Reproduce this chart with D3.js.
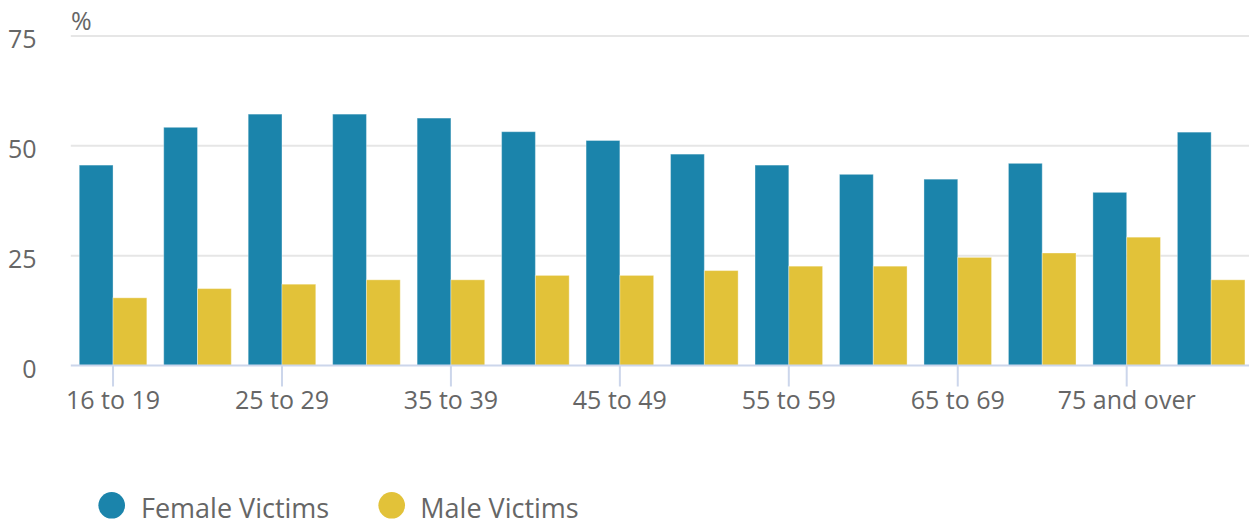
<!DOCTYPE html>
<html>
<head>
<meta charset="utf-8">
<script src="https://cdn.jsdelivr.net/npm/d3@7"></script>
<style>
  html, body { margin: 0; padding: 0; background: #ffffff; }
  svg { display: block; }
  text { font-family: "Open Sans", "DejaVu Sans", sans-serif; fill: #666666; }
</style>
</head>
<body>
<svg id="chart" width="1249" height="522"></svg>
<script>
// ---- data ----
const categories = ["16 to 19", "20 to 24", "25 to 29", "30 to 34", "35 to 39", "40 to 44",
  "45 to 49", "50 to 54", "55 to 59", "60 to 64", "65 to 69", "70 to 74", "75 and over", "All ages"];
const femaleVictims = [45.6, 54.2, 57.2, 57.2, 56.3, 53.2, 51.2, 48.1, 45.6, 43.5, 42.4, 46.0, 39.4, 53.1];
const maleVictims   = [15.4, 17.5, 18.5, 19.5, 19.5, 20.5, 20.5, 21.6, 22.6, 22.6, 24.6, 25.6, 29.2, 19.5];
const seriesNames = ["Female Victims", "Male Victims"];
const yTicks = [0, 25, 50, 75];
const yUnit = "%";

// ---- layout ----
const svg = d3.select("#chart");
const colors = ["#1b84ab", "#e2c239"];
const plotLeft = 70.8, plotRight = 1253.4, plotTop = 35.9, plotBottom = 365.5;

const x0 = d3.scaleBand().domain(categories).range([plotLeft, plotRight]).padding(0);
const bw = x0.bandwidth();
const x1 = d3.scaleBand().domain(seriesNames).range([0.1 * bw, 0.9 * bw]).padding(0);
const y = d3.scaleLinear().domain([0, 75]).range([plotBottom, plotTop]);

// gridlines
const grid = svg.append("g");
grid.selectAll("line").data(yTicks.filter(d => d !== 0)).join("line")
  .attr("x1", plotLeft).attr("x2", 1249)
  .attr("y1", d => y(d)).attr("y2", d => y(d))
  .attr("stroke", "#e6e6e6").attr("stroke-width", 2);

// y labels
const yAxis = d3.axisLeft(y).tickValues(yTicks).tickSize(0).tickPadding(0);
const yg = svg.append("g").attr("transform", `translate(36.5,0)`).call(yAxis);
yg.attr("font-family", null);
yg.select(".domain").remove();
yg.selectAll("text")
  .attr("font-size", 25)
  .attr("fill", "#666666")
  .attr("dy", null).attr("y", 11.5)
  .style("font-family", '"Open Sans", sans-serif');

// unit title
svg.append("text").attr("x", 71).attr("y", 29.5).attr("font-size", 25).text(yUnit);

// bars
const data = categories.map((c, i) => ({ cat: c, vals: [femaleVictims[i], maleVictims[i]] }));
const groups = svg.append("g").selectAll("g").data(data).join("g")
  .attr("transform", d => `translate(${x0(d.cat)},0)`);
groups.selectAll("rect").data(d => d.vals.map((v, j) => ({ v, s: seriesNames[j], j }))).join("rect")
  .attr("x", d => x1(d.s))
  .attr("width", x1.bandwidth())
  .attr("y", d => y(d.v))
  .attr("height", d => plotBottom - y(d.v))
  .attr("fill", d => colors[d.j])
  .attr("stroke", "rgba(255,255,255,0.35)")
  .attr("stroke-width", 1);

// x axis
const shown = categories.filter((c, i) => i % 2 === 0 && i < 13);
const xAxis = d3.axisBottom(x0).tickValues(shown).tickSize(21).tickPadding(4).tickSizeOuter(0);
const xg = svg.append("g").attr("transform", `translate(0,${plotBottom})`).call(xAxis);
xg.attr("font-family", null);
xg.select(".domain").attr("stroke", "#ccd6eb").attr("stroke-width", 2)
  .attr("d", `M${plotLeft},0H1249`);
xg.selectAll(".tick line").attr("stroke", "#ccd6eb").attr("stroke-width", 2);
xg.selectAll(".tick text")
  .attr("font-size", 25).attr("fill", "#666666").attr("dy", null).attr("y", 43.8)
  .style("font-family", '"Open Sans", sans-serif');

// legend
const legendPos = [{ cx: 111.7, tx: 141 }, { cx: 391.7, tx: 420.3 }];
const legend = svg.append("g").selectAll("g").data(seriesNames).join("g");
legend.append("circle")
  .attr("cx", (d, i) => legendPos[i].cx).attr("cy", 505.3).attr("r", 13.3)
  .attr("fill", (d, i) => colors[i]);
legend.append("text")
  .attr("x", (d, i) => legendPos[i].tx).attr("y", 518.2)
  .attr("font-size", 27).text(d => d);
</script>
</body>
</html>
